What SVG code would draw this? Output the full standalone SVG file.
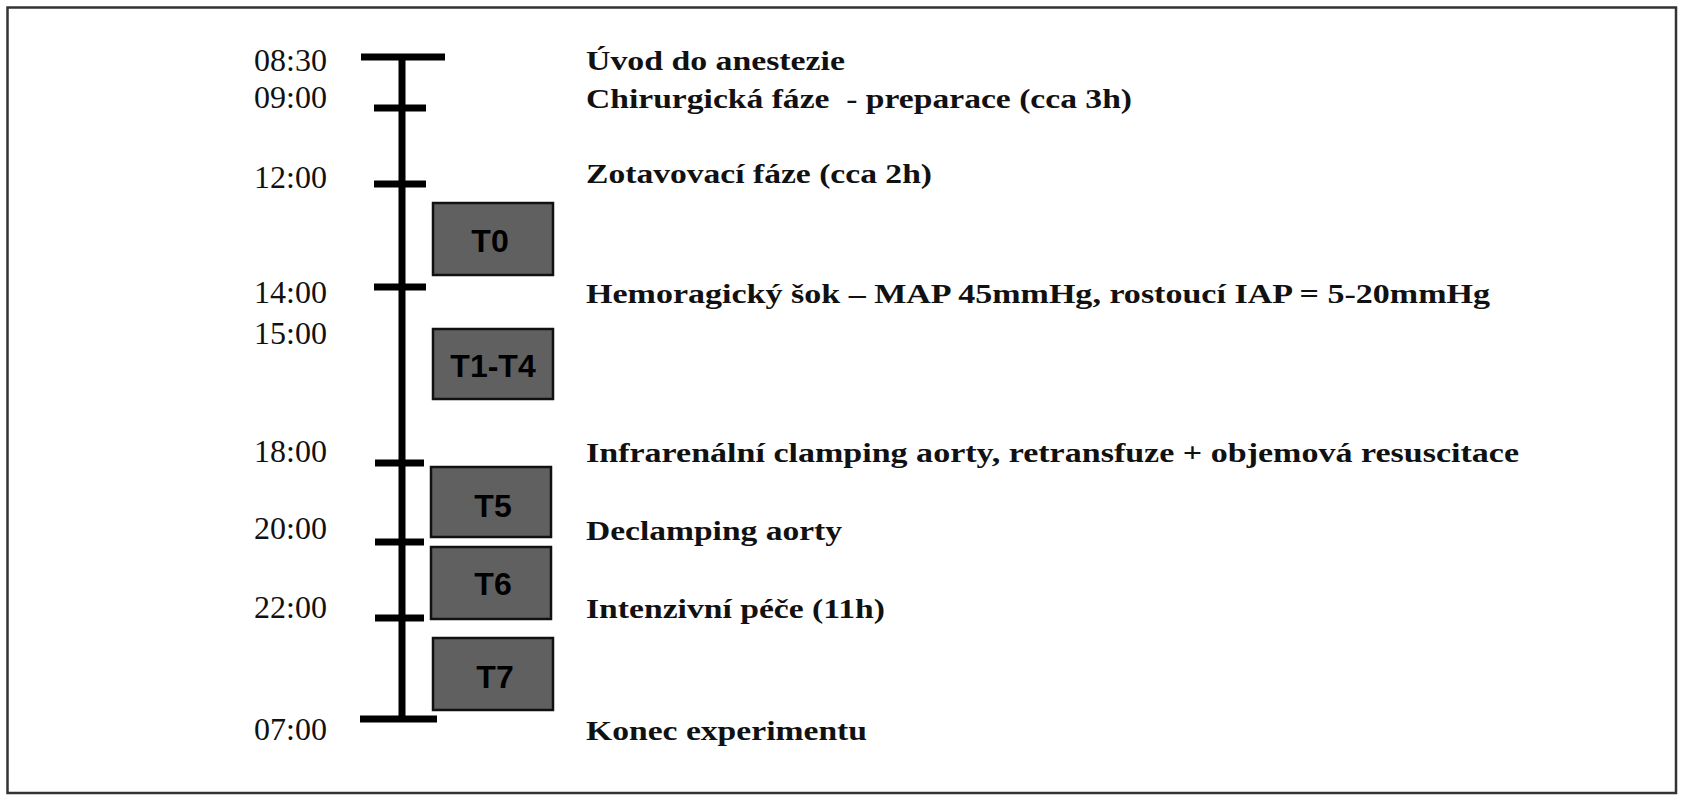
<svg xmlns="http://www.w3.org/2000/svg" width="1682" height="800" viewBox="0 0 1682 800">
<style>
.time{font-family:"Liberation Serif","Times New Roman",serif;font-size:32px;fill:#111;text-anchor:end}
.lbl{font-family:"Liberation Serif","Times New Roman",serif;font-size:28px;font-weight:bold;fill:#111;white-space:pre}
.box{fill:#606060;stroke:#111;stroke-width:2.5}
.btxt{font-family:"Liberation Sans",Arial,sans-serif;font-size:32px;font-weight:bold;fill:#000;text-anchor:middle}
.ax{stroke:#000;stroke-width:7;fill:none}
</style>
<rect x="0" y="0" width="1682" height="800" fill="#fff"/>
<rect x="7.5" y="7.5" width="1668.5" height="785.5" fill="#fff" stroke="#333" stroke-width="2.5"/>
<g id="timeline" class="connectors">
<line class="ax" x1="402" y1="57" x2="402" y2="719"/>
<line class="ax" x1="361" y1="57" x2="445" y2="57"/>
<line class="ax" x1="374" y1="108" x2="426" y2="108"/>
<line class="ax" x1="374" y1="184" x2="426" y2="184"/>
<line class="ax" x1="374" y1="287" x2="426" y2="287"/>
<line class="ax" x1="375" y1="463" x2="424" y2="463"/>
<line class="ax" x1="375" y1="542" x2="424" y2="542"/>
<line class="ax" x1="375" y1="618" x2="424" y2="618"/>
<line class="ax" x1="360" y1="719" x2="437" y2="719"/>
</g>
<g id="times">
<text class="time" x="327" y="71">08:30</text>
<text class="time" x="327" y="108">09:00</text>
<text class="time" x="327" y="188">12:00</text>
<text class="time" x="327" y="303">14:00</text>
<text class="time" x="327" y="344">15:00</text>
<text class="time" x="327" y="462">18:00</text>
<text class="time" x="327" y="539">20:00</text>
<text class="time" x="327" y="618">22:00</text>
<text class="time" x="327" y="740">07:00</text>
</g>
<g id="labels">
<text class="lbl" x="586" y="70" textLength="259" lengthAdjust="spacingAndGlyphs">Úvod do anestezie</text>
<text class="lbl" x="586" y="108" textLength="546" lengthAdjust="spacingAndGlyphs">Chirurgická fáze  - preparace (cca 3h)</text>
<text class="lbl" x="586" y="183" textLength="346" lengthAdjust="spacingAndGlyphs">Zotavovací fáze (cca 2h)</text>
<text class="lbl" x="586" y="303" textLength="904" lengthAdjust="spacingAndGlyphs">Hemoragický šok – MAP 45mmHg, rostoucí IAP = 5-20mmHg</text>
<text class="lbl" x="586" y="462" textLength="933" lengthAdjust="spacingAndGlyphs">Infrarenální clamping aorty, retransfuze + objemová resuscitace</text>
<text class="lbl" x="586" y="540" textLength="256" lengthAdjust="spacingAndGlyphs">Declamping aorty</text>
<text class="lbl" x="586" y="618" textLength="299" lengthAdjust="spacingAndGlyphs">Intenzivní péče (11h)</text>
<text class="lbl" x="586" y="740" textLength="281" lengthAdjust="spacingAndGlyphs">Konec experimentu</text>
</g>
<g id="T0"><rect class="box" x="433" y="203" width="120" height="72"/><text class="btxt" x="490" y="252">T0</text></g>
<g id="T1-T4"><rect class="box" x="433" y="329" width="120" height="70"/><text class="btxt" x="493" y="377">T1-T4</text></g>
<g id="T5"><rect class="box" x="431" y="467" width="120" height="70"/><text class="btxt" x="493" y="517">T5</text></g>
<g id="T6"><rect class="box" x="431" y="547" width="120" height="72"/><text class="btxt" x="493" y="595">T6</text></g>
<g id="T7"><rect class="box" x="433" y="638" width="120" height="72"/><text class="btxt" x="495" y="688">T7</text></g>
</svg>
